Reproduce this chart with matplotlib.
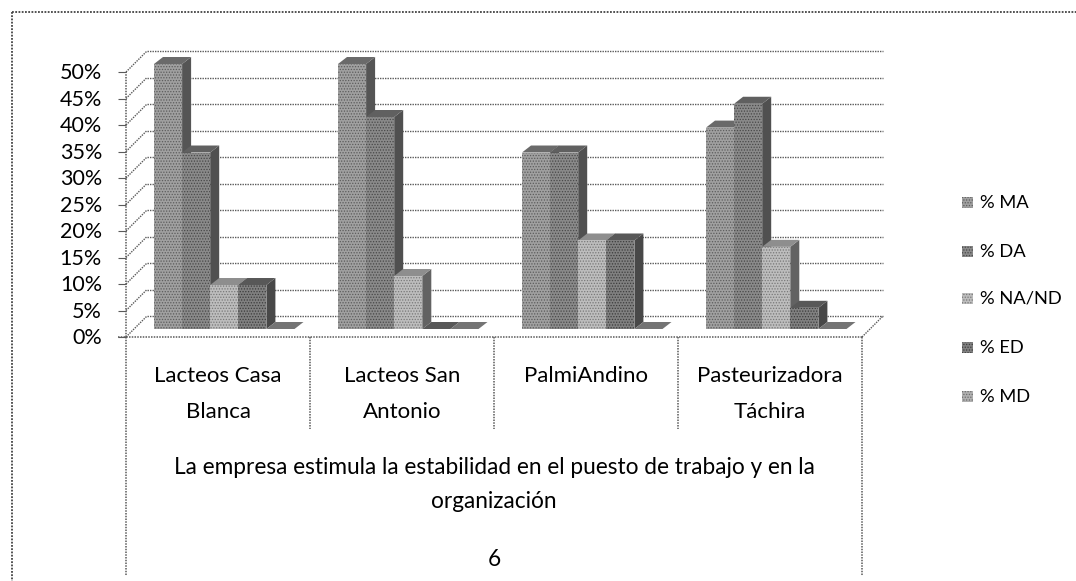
import matplotlib
matplotlib.use("Agg")
import matplotlib.pyplot as plt
from matplotlib.patches import Polygon, Rectangle

plt.rcParams['font.family'] = ['Lato', 'DejaVu Sans']
plt.rcParams['hatch.linewidth'] = 0.6

categories = ["Lacteos Casa\nBlanca", "Lacteos San\nAntonio", "PalmiAndino", "Pasteurizadora\nTáchira"]
series_names = ["% MA", "% DA", "% NA/ND", "% ED", "% MD"]
ma = [50.0, 50.0, 33.3, 38.0]
da = [33.3, 40.0, 33.3, 42.5]
na = [8.3, 10.0, 16.7, 15.5]
ed = [8.3, 0.0, 16.7, 4.0]
md = [0.0, 0.0, 0.0, 0.0]
series = [ma, da, na, ed, md]
y_ticks = [0, 5, 10, 15, 20, 25, 30, 35, 40, 45, 50]
group_title = "La empresa estimula la estabilidad en el puesto de trabajo y en la\norganización"
group_number = "6"

front_cols = ["#a0a0a0", "#8a8a8a", "#bdbdbd", "#808080", "#b0b0b0"]
hatch_cols = ["#5c5c5c", "#484848", "#787878", "#3c3c3c", "#6c6c6c"]
side_cols = ["#555555", "#505050", "#626262", "#484848", "#5a5a5a"]
top_cols = ["#6a6a6a", "#606060", "#8e8e8e", "#585858", "#747474"]
line_col = "#5a5a5a"

W, H = 1076, 581
fig = plt.figure(figsize=(W / 100, H / 100), dpi=100, facecolor="white")
ax = fig.add_axes([126 / W, 1 - 337 / H, 736 / W, 265 / H])
ax.set_xlim(0, 4)
ax.set_ylim(0, 50)
ax.axis("off")

px = 4 / 736      # data units per pixel, horizontal
py = 50 / 265     # data units per pixel, vertical
back_x, back_y = 21 * px, 21 * py
plane_x, plane_y = 8 * px, 8 * py
depth_x, depth_y = 9 * px, 7 * py
bar_w = 28.1 * px
gap = 20 * px


def ln(xs, ys, lw=1.0, ls=(0, (1, 0.8)), col=line_col, z=1):
    ax.plot(xs, ys, color=col, lw=lw, ls=ls, clip_on=False, zorder=z, solid_capstyle="butt")


# walls and axis
for t in y_ticks:
    ln([back_x, 4 + back_x], [t + back_y, t + back_y])
    ln([0, back_x], [t, t + back_y])
    ln([-8 * px, 0], [t, t], ls="-", lw=0.8)
ln([4, 4 + back_x], [0, back_y])
ln([0, 0], [0, 50], lw=1.1)
ln([-8 * px, 4], [0, 0], lw=1.1, z=6)

# bars
z = 3
for c in range(4):
    x0 = c + gap + plane_x
    for s, vals in enumerate(series):
        v = vals[c]
        l, r = x0 + s * bar_w, x0 + (s + 1) * bar_w
        b, t = plane_y, plane_y + v
        ax.add_patch(Polygon([(r, b), (r + depth_x, b + depth_y), (r + depth_x, t + depth_y), (r, t)],
                             fc=side_cols[s], ec="none", zorder=z, clip_on=False))
        ax.add_patch(Polygon([(l, t), (l + depth_x, t + depth_y), (r + depth_x, t + depth_y), (r, t)],
                             fc=top_cols[s], ec="none", zorder=z, clip_on=False))
        ax.add_patch(Rectangle((l, b), bar_w, v, fc=front_cols[s], ec=hatch_cols[s], hatch="......",
                               lw=0, zorder=z, clip_on=False))
        z += 0.01

# table below the axis
px_y = lambda p: (337 - p) * py
for x in [0, 4]:
    ln([x, x], [0, px_y(576)], lw=1.1)
for x in [1, 2, 3]:
    ln([x, x], [0, px_y(429)], lw=1.1)

txt = "#000000"
for c, lab in enumerate(categories):
    lines = lab.split("\n")
    for i, part in enumerate(lines):
        ax.text(c + 0.5, px_y(376 + 36 * i), part, ha="center", va="center", fontsize=16,
                color=txt, clip_on=False)
title_lines = group_title.split("\n")
for i, part in enumerate(title_lines):
    ax.text(2, px_y(467 + 35 * i), part, ha="center", va="center", fontsize=16.3, color=txt, clip_on=False)
ax.text(2, px_y(559), group_number, ha="center", va="center", fontsize=16.3, color=txt, clip_on=False)

for t in y_ticks:
    ax.text(-24 * px, t - 0.2, f"{t}%", ha="right", va="center", fontsize=15.5, color=txt, clip_on=False)

# legend
leg_y = [203, 252, 299, 348, 397]
for s, name in enumerate(series_names):
    ax.add_patch(Rectangle(((962 - 126) * px, px_y(leg_y[s] + 5)), 11 * px, 11 * py, fc=front_cols[s],
                           ec=hatch_cols[s], hatch="......", lw=0, clip_on=False))
    ax.text((980 - 126) * px, px_y(leg_y[s]), name, ha="left", va="center", fontsize=13.2, color=txt, clip_on=False)

# scanned page frame
ln([-114 * px, (W - 126) * px], [px_y(12), px_y(12)], col="#444444", lw=1.3)
ln([-114 * px, -114 * px], [px_y(12), px_y(H)], col="#444444", lw=1.3)

fig.savefig("out.png", dpi=100, facecolor="white")
